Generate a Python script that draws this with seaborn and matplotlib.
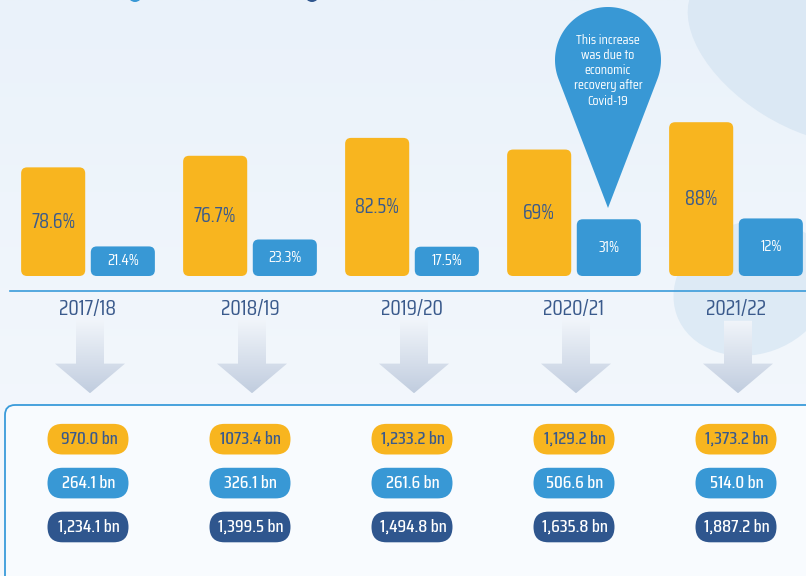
import numpy as np
import pandas as pd
import seaborn as sns
import matplotlib
matplotlib.use("Agg")
import matplotlib.pyplot as plt
from matplotlib.patches import FancyBboxPatch, Ellipse, Circle, Polygon
from matplotlib.colors import to_rgb

years = ["2017/18", "2018/19", "2019/20", "2020/21", "2021/22"]
series_a_bn = [970.0, 1073.4, 1233.2, 1129.2, 1373.2]
series_b_bn = [264.1, 326.1, 261.6, 506.6, 514.0]
series_a_share = ["78.6%", "76.7%", "82.5%", "69%", "88%"]
series_b_share = ["21.4%", "23.3%", "17.5%", "31%", "12%"]
series_a_text = ["970.0 bn", "1073.4 bn", "1,233.2 bn", "1,129.2 bn", "1,373.2 bn"]
series_b_text = ["264.1 bn", "326.1 bn", "261.6 bn", "506.6 bn", "514.0 bn"]
total_text = ["1,234.1 bn", "1,399.5 bn", "1,494.8 bn", "1,635.8 bn", "1,887.2 bn"]
note_lines = ["This increase", "was due to", "economic", "recovery after", "Covid-19"]

YELLOW = "#F8B51F"
BLUE = "#3898D5"
NAVY = "#2F568E"
INK = "#3A5A8C"
LINE = "#3A9BDA"

W, H = 806, 576
STEP = 162            # px between year groups
X0 = 88               # px of first group centre
PXX = 1 / STEP        # category units per px
BN_PX = 1 / 0.112     # bn per px in the bar panel

sns.set_theme(style="white")
plt.rcParams["font.family"] = ["Saira Condensed", "DejaVu Sans"]


def vgrad(top, bottom, n=256):
    a, b = np.array(to_rgb(top)), np.array(to_rgb(bottom))
    t = np.linspace(0, 1, n)[:, None]
    return (a * (1 - t) + b * t)[:, None, :]


fig = plt.figure(figsize=(W / 100, H / 100), dpi=100)

# ---- background layer (pixel coords) ----
bg = fig.add_axes([0, 0, 1, 1])
bg.set_xlim(0, W)
bg.set_ylim(H, 0)
bg.axis("off")
bg.imshow(vgrad("#EAF2FA", "#F6F9FD"), extent=(0, W, H, 0), aspect="auto", zorder=0)
bg.add_patch(Ellipse((800, 55), 250, 140, angle=32, fc="#DBE8F4", ec="none", zorder=1))
bg.add_patch(Ellipse((752, 288), 160, 132, angle=-20, fc="#DDEAF5", ec="none", zorder=1))
bg.add_patch(Circle((135, -5), 7, fc=BLUE, ec="none", zorder=2))
bg.add_patch(Circle((312, -5), 7, fc=NAVY, ec="none", zorder=2))
bg.add_patch(FancyBboxPatch((5, 405), 830, 220, boxstyle="round,pad=0,rounding_size=10",
                            fc="#F8FBFE", ec=LINE, lw=1.3, zorder=1))

# callout balloon
cx, cy, r, tip = 608, 60, 53, 208
a0 = np.degrees(np.arccos(r / (tip - cy)))
th = np.radians(np.linspace(a0, 360 - a0, 120))
pts = np.column_stack([cx + r * np.sin(th), cy + r * np.cos(th)])
pts = np.vstack([[cx, tip], pts])
bg.add_patch(Polygon(pts, closed=True, fc=BLUE, ec="none", zorder=3))
for k, line in enumerate(note_lines):
    bg.text(cx, 40 + 15.3 * k, line, ha="center", va="center", color="white",
            fontsize=10, zorder=4)

# ---- bar panel ----
ax = fig.add_axes([0, 1 - 291 / H, 1, 291 / H])
df = pd.DataFrame({
    "year": years * 2,
    "bn": series_a_bn + series_b_bn,
    "part": ["a"] * len(years) + ["b"] * len(years),
})
sns.barplot(data=df, x="year", y="bn", hue="part", palette=[YELLOW, BLUE],
            width=0.86, gap=0.08, saturation=1, legend=False, ax=ax)
ax.set_xlim(-X0 * PXX, (W - X0) * PXX)
ax.set_ylim(-15 * BN_PX, 276 * BN_PX)
ax.patch.set_alpha(0)
ax.set_xlabel("")
ax.set_ylabel("")
ax.set_yticks([])
for s in ["left", "top", "right"]:
    ax.spines[s].set_visible(False)
ax.spines["bottom"].set_color(LINE)
ax.spines["bottom"].set_linewidth(1.2)
ax.spines["bottom"].set_bounds(-78 * PXX, (W - X0) * PXX)
ax.tick_params(axis="x", length=0, pad=6, labelsize=15.5, labelcolor=INK)

labels = series_a_share + series_b_share
for k, p in enumerate(list(ax.patches)):
    x, y, w, h = p.get_x(), p.get_y(), p.get_width(), p.get_height()
    fc = p.get_facecolor()
    p.remove()
    ax.add_patch(FancyBboxPatch((x, y), w, h,
                                boxstyle=f"round,pad=0,rounding_size={6 * PXX}",
                                mutation_aspect=BN_PX / PXX, fc=fc, ec="none"))
    first = k < len(years)
    ax.text(x + w / 2, y + h / 2, labels[k], ha="center", va="center",
            color=INK if first else "white", fontsize=14.5 if first else 11.5)

# ---- lower panel: arrows and value pills ----
lo = fig.add_axes([0, 0, 1, 291 / H])
lo.set_xlim(-X0 * PXX, (W - X0) * PXX)
lo.set_ylim(H, 291)
lo.axis("off")
lo.patch.set_alpha(0)

for i in range(len(years)):
    xc = i + 2 * PXX
    sw, hw = 14 * PXX, 35 * PXX
    arrow = Polygon([[xc - sw, 326], [xc + sw, 326], [xc + sw, 368], [xc + hw, 368],
                     [xc, 397], [xc - hw, 368], [xc - sw, 368]], closed=True,
                    transform=lo.transData)
    im = lo.imshow(vgrad("#F1F5FA", "#C1CDDF"), extent=(xc - hw, xc + hw, 397, 326),
                   aspect="auto", zorder=1)
    im.set_clip_path(arrow)

rows = [(series_a_text, YELLOW, INK, 442), (series_b_text, BLUE, "white", 485),
        (total_text, NAVY, "white", 528)]
for texts, fc, tc, yc in rows:
    for i, t in enumerate(texts):
        lo.add_patch(FancyBboxPatch((i - 40.5 * PXX, yc - 15), 81 * PXX, 30,
                                    boxstyle=f"round,pad=0,rounding_size={15 * PXX}",
                                    mutation_aspect=STEP, fc=fc, ec="none", zorder=2))
        lo.text(i + 1 * PXX, yc, t, ha="center", va="center", color=tc,
                fontsize=13, fontweight="medium", zorder=3)
lo.set_xlim(-X0 * PXX, (W - X0) * PXX)
lo.set_ylim(H, 291)

fig.savefig("out.png", dpi=100)
